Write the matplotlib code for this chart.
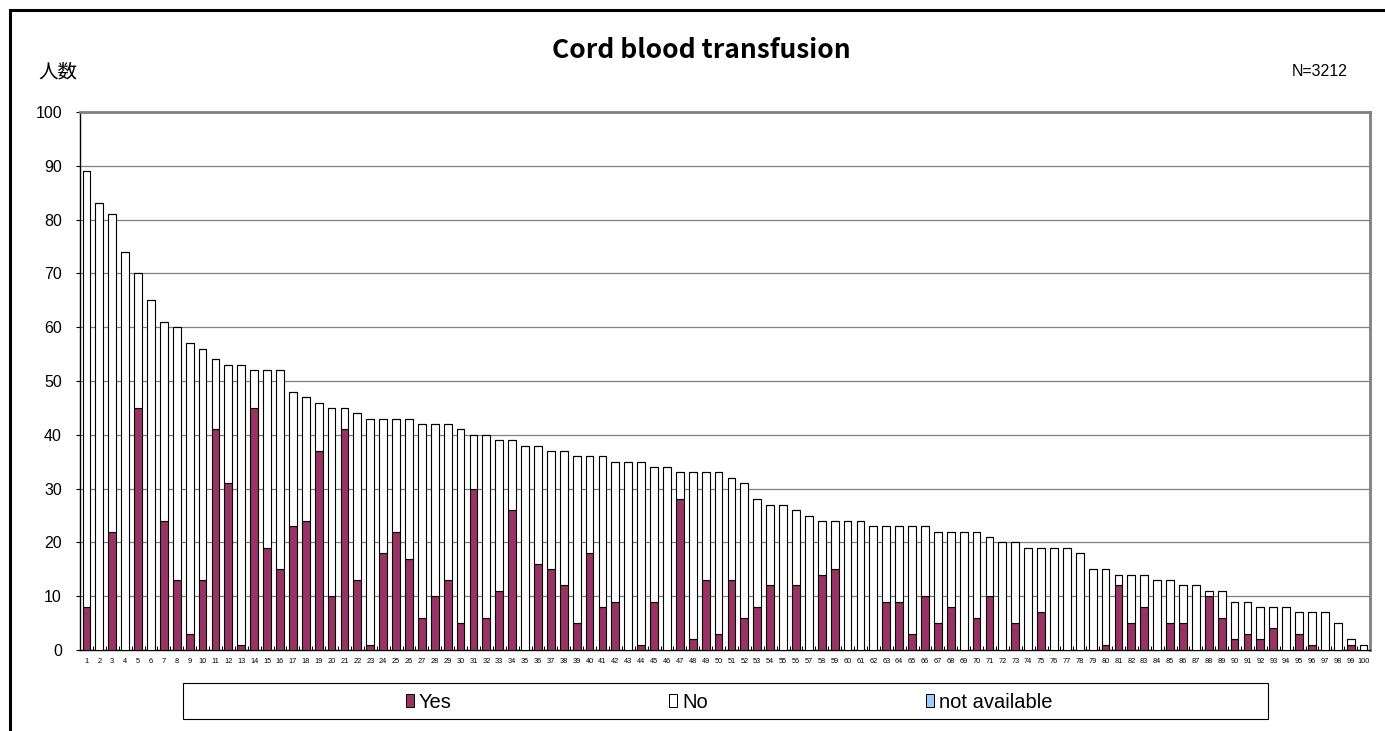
import matplotlib
matplotlib.use("Agg")
import matplotlib.pyplot as plt
from matplotlib.patches import Rectangle, Patch
import numpy as np

plt.rcParams['font.family'] = ['Noto Sans CJK JP', 'DejaVu Sans']

categories = [str(i) for i in range(1, 101)]
totals = [89, 83, 81, 74, 70, 65, 61, 60, 57, 56,
          54, 53, 53, 52, 52, 52, 48, 47, 46, 45,
          45, 44, 43, 43, 43, 43, 42, 42, 42, 41,
          40, 40, 39, 39, 38, 38, 37, 37, 36, 36,
          36, 35, 35, 35, 34, 34, 33, 33, 33, 33,
          32, 31, 28, 27, 27, 26, 25, 24, 24, 24,
          24, 23, 23, 23, 23, 23, 22, 22, 22, 22,
          21, 20, 20, 19, 19, 19, 19, 18, 15, 15,
          14, 14, 14, 13, 13, 12, 12, 11, 11, 9,
          9, 8, 8, 8, 7, 7, 7, 5, 2, 1]
yes = [8, 0, 22, 0, 45, 0, 24, 13, 3, 13,
       41, 31, 1, 45, 19, 15, 23, 24, 37, 10,
       41, 13, 1, 18, 22, 17, 6, 10, 13, 5,
       30, 6, 11, 26, 0, 16, 15, 12, 5, 18,
       8, 9, 0, 1, 9, 0, 28, 2, 13, 3,
       13, 6, 8, 12, 0, 12, 0, 14, 15, 0,
       0, 0, 9, 9, 3, 10, 5, 8, 0, 6,
       10, 0, 5, 0, 7, 0, 0, 0, 0, 1,
       12, 5, 8, 0, 5, 5, 0, 10, 6, 2,
       3, 2, 4, 0, 3, 1, 0, 0, 1, 0]
no = [t - y for t, y in zip(totals, yes)]
not_available = [0] * 100
series_names = ["Yes", "No", "not available"]
series_colors = ["#993366", "#FFFFFF", "#99CCFF"]
yticks = list(range(0, 101, 10))

W, H = 1385, 731
LAT = ['Liberation Sans', 'DejaVu Sans']
fig = plt.figure(figsize=(W / 100, H / 100), dpi=100)
ax = fig.add_axes([80 / W, 1 - 650 / H, 1290 / W, 538 / H])

x = np.arange(len(categories))
bw = 0.6
ax.bar(x, yes, bw, color=series_colors[0], edgecolor="black", linewidth=0.8, zorder=3)
ax.bar(x, no, bw, bottom=yes, color=series_colors[1], edgecolor="black", linewidth=0.8, zorder=3)
bottom2 = [a + b for a, b in zip(yes, no)]
ax.bar(x, not_available, bw, bottom=bottom2, color=series_colors[2], edgecolor="black",
       linewidth=0.8, zorder=3)

ax.set_xlim(-0.5, len(categories) - 0.5)
ax.set_ylim(0, 100)
ax.set_yticks(yticks)
ax.set_yticklabels([str(v) for v in yticks], fontsize=11.5, family=LAT)
ax.yaxis.grid(True, color="#808080", linewidth=0.9, zorder=0)
ax.set_axisbelow(True)
ax.tick_params(axis='y', direction='out', length=3, width=0.8, pad=10)

ax.set_xticks(x)
ax.set_xticklabels(categories, fontsize=5.3, family=LAT)
ax.set_xticks(np.arange(-0.5, len(categories), 1), minor=True)
ax.tick_params(axis='x', which='major', length=0, pad=6)
ax.tick_params(axis='x', which='minor', direction='in', length=3, width=0.7)

for s in ['left', 'bottom']:
    ax.spines[s].set_color('black')
    ax.spines[s].set_linewidth(1.0)
for s in ['top', 'right']:
    ax.spines[s].set_color('#808080')
    ax.spines[s].set_linewidth(2.0)

fig.text(701 / W, 1 - 50 / H, "Cord blood transfusion", ha='center', va='center',
         fontsize=19, fontweight='bold')
fig.text(38 / W, 1 - 72 / H, "人数", ha='left', va='center', fontsize=14)
fig.text(1348 / W, 1 - 72 / H, "N=3212", ha='right', va='center', fontsize=11.5, family=LAT)

# outer frame
fig.add_artist(Rectangle((10 / W, -0.1), 1.2, 1 - 10 / H + 0.1, transform=fig.transFigure,
                         fill=False, edgecolor='black', linewidth=2.2))
# legend box
fig.add_artist(Rectangle((183 / W, 1 - 719 / H), (1268 - 183) / W, 36 / H,
                         transform=fig.transFigure, fill=False, edgecolor='black', linewidth=0.8))
handles = [Patch(facecolor=c, edgecolor='black', linewidth=0.7) for c in series_colors]
fig.legend(handles, series_names, loc='center', bbox_to_anchor=(729 / W, 1 - 702 / H),
           ncol=3, frameon=False, handlelength=0.4, handleheight=0.6,
           handletextpad=0.25, columnspacing=10.8,
           prop={'family': LAT, 'size': 14.5})

fig.savefig("out.png", dpi=100)
